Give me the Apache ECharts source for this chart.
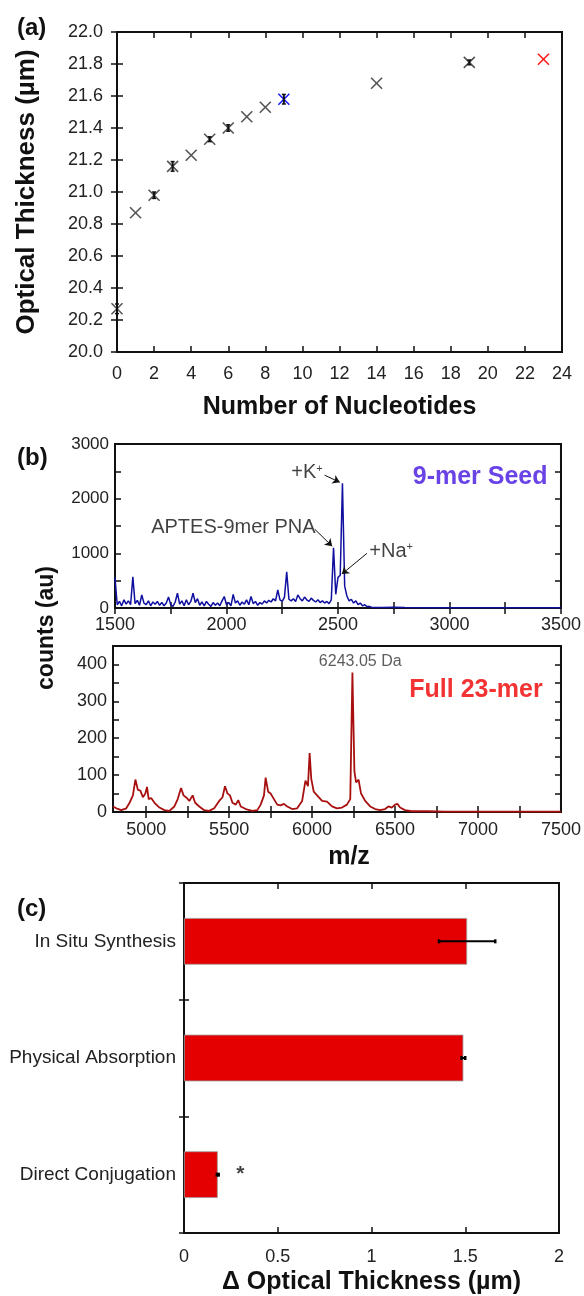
<!DOCTYPE html>
<html>
<head>
<meta charset="utf-8">
<title>Optical thickness / MALDI / delta thickness</title>
<script src="https://cdn.jsdelivr.net/npm/echarts@6/dist/echarts.min.js"></script>
<style>
  html, body { margin: 0; padding: 0; background: #fff; }
  #chart { width: 584px; height: 1296px; }
</style>
</head>
<body>
<div id="chart"></div>
<script>
// (a) optical thickness vs number of nucleotides
const nucleotides = [0, 1, 2, 3, 4, 5, 6, 7, 8, 9, 14, 19, 23];
const thickness = [20.27, 20.87, 20.98, 21.16, 21.23, 21.33, 21.40, 21.47, 21.53, 21.58, 21.68, 21.81, 21.83];
const thicknessErr = [0.03, 0, 0.02, 0.03, 0, 0.015, 0.02, 0, 0, 0.03, 0, 0.015, 0];
const seedLength = 9;
const fullLength = 23;

// (b) top: 9-mer seed spectrum
const seedMz = [1500, 1505, 1510, 1520, 1530, 1540, 1550, 1560, 1570, 1580, 1590, 1600, 1610, 1620, 1630, 1640,
  1650, 1660, 1670, 1680, 1690, 1700, 1710, 1720, 1730, 1740, 1750, 1760, 1770, 1780, 1790, 1800, 1810, 1820,
  1830, 1840, 1850, 1860, 1870, 1880, 1890, 1900, 1910, 1920, 1930, 1940, 1950, 1960, 1970, 1980, 1990, 2000,
  2010, 2020, 2030, 2040, 2050, 2060, 2070, 2080, 2090, 2100, 2110, 2120, 2130, 2140, 2150, 2160, 2170, 2180,
  2190, 2200, 2210, 2220, 2230, 2240, 2250, 2260, 2270, 2280, 2290, 2300, 2310, 2320, 2330, 2340, 2350, 2360,
  2370, 2380, 2390, 2400, 2410, 2420, 2430, 2440, 2450, 2460, 2470, 2480, 2490, 2500, 2510, 2520, 2530, 2540,
  2550, 2560, 2570, 2580, 2590, 2600, 2610, 2620, 2630, 2640, 2650, 2660, 2700, 2750, 2800, 2900, 3000, 3100,
  3200, 3300, 3400, 3500];
const seedCounts = [560, 300, 60, 120, 40, 150, 70, 130, 60, 570, 80, 140, 50, 240, 90, 60,
  130, 40, 110, 70, 120, 50, 100, 40, 90, 200, 60, 30, 110, 270, 70, 130, 40, 150,
  60, 120, 270, 100, 170, 50, 110, 40, 120, 70, 30, 100, 50, 90, 40, 130, 210, 60,
  100, 40, 250, 90, 130, 50, 110, 70, 150, 60, 210, 80, 120, 50, 100, 70, 130, 90,
  140, 110, 170, 130, 330, 150, 120, 200, 660, 160, 130, 170, 120, 240, 170, 130, 200, 150,
  120, 180, 140, 110, 150, 100, 130, 90, 120, 80, 150, 1100, 250, 560, 600, 2280, 400, 220,
  130, 160, 90, 130, 60, 90, 40, 60, 25, 30, 15, 10, 10, 12, 8, 6, 5, 6,
  5, 6, 5, 5];

// (b) bottom: full 23-mer spectrum
const fullMz = [4800, 4820, 4850, 4880, 4900, 4920, 4935, 4950, 4965, 4980, 4995, 5005, 5015, 5030, 5050, 5080,
  5110, 5140, 5170, 5190, 5210, 5225, 5245, 5260, 5280, 5295, 5320, 5350, 5380, 5410, 5440, 5460, 5475, 5490,
  5505, 5520, 5540, 5555, 5570, 5600, 5640, 5670, 5690, 5710, 5720, 5735, 5750, 5770, 5790, 5810, 5830, 5850,
  5880, 5910, 5940, 5960, 5975, 5985, 5995, 6010, 6030, 6060, 6090, 6120, 6150, 6180, 6210, 6230, 6243, 6255,
  6265, 6280, 6295, 6320, 6350, 6380, 6410, 6440, 6460, 6480, 6500, 6515, 6530, 6560, 6600, 6700, 6800, 7000,
  7200, 7500];
const fullCounts = [15, 10, 5, 10, 25, 45, 88, 60, 58, 40, 50, 68, 35, 38, 25, 12,
  5, 3, 15, 35, 65, 45, 38, 30, 45, 25, 15, 5, 3, 10, 30, 40, 70, 50,
  45, 25, 20, 32, 15, 8, 3, 5, 20, 45, 93, 55, 50, 35, 20, 18, 22, 15,
  8, 10, 30, 85, 70, 160, 90, 55, 45, 30, 28, 15, 10, 12, 20, 35, 378, 110,
  80, 88, 50, 30, 15, 8, 5, 8, 15, 12, 20, 22, 12, 5, 2, 2, 1, 1,
  1, 1];

// (c) delta optical thickness by method
const methods = ['In Situ Synthesis', 'Physical Absorption', 'Direct Conjugation'];
const deltaThickness = [1.51, 1.49, 0.18];
const deltaErr = [0.15, 0.01, 0.005];

const FONT = 'Liberation Sans, Arial, sans-serif';
const INK = '#111';
const TICK = { show: true, inside: true, length: 6, lineStyle: { color: INK, width: 1.5 } };

function frameAxis(extra) {
  return Object.assign({
    axisLine: { show: true, lineStyle: { color: INK, width: 2 } },
    splitLine: { show: false },
    axisTick: TICK,
    axisLabel: { color: '#222', fontSize: 18, fontFamily: FONT }
  }, extra);
}

function nameStyle(size) {
  return { fontSize: size, fontWeight: 'bold', color: INK, fontFamily: FONT };
}

function crossItem(params, api) {
  const x = api.value(0), y = api.value(1), e = api.value(2);
  const p = api.coord([x, y]);
  const s = 5.5;
  const color = api.visual('color');
  const children = [
    { type: 'line', shape: { x1: p[0] - s, y1: p[1] - s, x2: p[0] + s, y2: p[1] + s }, style: { stroke: color, lineWidth: 1.6 } },
    { type: 'line', shape: { x1: p[0] - s, y1: p[1] + s, x2: p[0] + s, y2: p[1] - s }, style: { stroke: color, lineWidth: 1.6 } }
  ];
  if (e > 0) {
    const hi = api.coord([x, y + e]);
    const lo = api.coord([x, y - e]);
    children.push({ type: 'line', shape: { x1: p[0], y1: hi[1], x2: p[0], y2: lo[1] }, style: { stroke: '#111', lineWidth: 2 } });
    children.push({ type: 'line', shape: { x1: p[0] - 2, y1: hi[1], x2: p[0] + 2, y2: hi[1] }, style: { stroke: '#111', lineWidth: 1.5 } });
    children.push({ type: 'line', shape: { x1: p[0] - 2, y1: lo[1], x2: p[0] + 2, y2: lo[1] }, style: { stroke: '#111', lineWidth: 1.5 } });
  }
  return { type: 'group', children: children };
}

function hBarError(params, api) {
  const v = api.value(0), cat = api.value(1), e = api.value(2);
  const lo = api.coord([v - e, cat]);
  const hi = api.coord([v + e, cat]);
  return {
    type: 'group',
    children: [
      { type: 'line', shape: { x1: lo[0], y1: lo[1], x2: hi[0], y2: hi[1] }, style: { stroke: '#000', lineWidth: 2 } },
      { type: 'line', shape: { x1: lo[0], y1: lo[1] - 2, x2: lo[0], y2: lo[1] + 2 }, style: { stroke: '#000', lineWidth: 2.5 } },
      { type: 'line', shape: { x1: hi[0], y1: hi[1] - 2, x2: hi[0], y2: hi[1] + 2 }, style: { stroke: '#000', lineWidth: 2.5 } }
    ]
  };
}

const points = nucleotides.map((n, i) => [n, thickness[i], thicknessErr[i]]);
const greyPoints = points.filter(p => p[0] !== seedLength && p[0] !== fullLength);
const seedPoint = points.filter(p => p[0] === seedLength);
const fullPoint = points.filter(p => p[0] === fullLength);

const gridBox = { show: true, borderColor: INK, borderWidth: 2, backgroundColor: 'transparent' };
const supRich = { s: { fontSize: 11, verticalAlign: 'top', padding: [0, 0, 9, 0] } };

const option = {
  animation: false,
  backgroundColor: '#fff',
  textStyle: { fontFamily: FONT },
  title: [
    { text: '(a)', left: 12, top: 11, textStyle: nameStyle(24) },
    { text: '(b)', left: 12, top: 441, textStyle: nameStyle(24) },
    { text: '(c)', left: 12, top: 892, textStyle: nameStyle(24) }
  ],
  graphic: [{
    type: 'text', left: 35, top: 566, rotation: Math.PI / 2,
    style: { text: 'counts (au)', fontSize: 23, fontWeight: 'bold', fill: INK, fontFamily: FONT }
  }],
  grid: [
    Object.assign({ left: 117, top: 32, width: 445, height: 320 }, gridBox),
    Object.assign({ left: 115, top: 444, width: 446, height: 164 }, gridBox),
    Object.assign({ left: 113, top: 646, width: 448, height: 166 }, gridBox),
    Object.assign({ left: 184, top: 883, width: 375, height: 350 }, gridBox)
  ],
  xAxis: [
    frameAxis({ gridIndex: 0, type: 'value', min: 0, max: 24, interval: 2,
      axisLabel: { color: '#222', fontSize: 18, fontFamily: FONT, margin: 13 },
      name: 'Number of Nucleotides', nameLocation: 'middle', nameGap: 43, nameTextStyle: nameStyle(25) }),
    frameAxis({ gridIndex: 0, type: 'value', position: 'top', min: 0, max: 24, interval: 2, axisLabel: { show: false } }),
    frameAxis({ gridIndex: 1, type: 'value', min: 1500, max: 3500, interval: 250,
      axisLabel: { color: '#222', fontSize: 18, fontFamily: FONT, margin: 8, formatter: v => (v % 500 === 0 ? String(v) : '') } }),
    frameAxis({ gridIndex: 1, type: 'value', position: 'top', min: 1500, max: 3500, interval: 250, axisLabel: { show: false } }),
    frameAxis({ gridIndex: 2, type: 'value', min: 4800, max: 7500,
      axisLabel: { color: '#222', fontSize: 18, fontFamily: FONT, margin: 9, formatter: v => String(v),
        customValues: [5000, 5500, 6000, 6500, 7000, 7500] },
      axisTick: Object.assign({}, TICK, { customValues: [5000, 5250, 5500, 5750, 6000, 6250, 6500, 6750, 7000, 7250] }),
      name: 'm/z', nameLocation: 'middle', nameGap: 33,
      nameTextStyle: Object.assign(nameStyle(25), { padding: [0, 0, 0, 24] }) }),
    frameAxis({ gridIndex: 2, type: 'value', position: 'top', min: 4800, max: 7500,
      axisLabel: { show: false },
      axisTick: Object.assign({}, TICK, { customValues: [5000, 5250, 5500, 5750, 6000, 6250, 6500, 6750, 7000, 7250] }) }),
    frameAxis({ gridIndex: 3, type: 'value', min: 0, max: 2, interval: 0.5,
      axisLabel: { color: '#222', fontSize: 18, fontFamily: FONT, margin: 15 },
      name: '\u0394 Optical Thickness (\u00b5m)', nameLocation: 'middle', nameGap: 37, nameTextStyle: nameStyle(25) }),
    frameAxis({ gridIndex: 3, type: 'value', position: 'top', min: 0, max: 2, interval: 0.5, axisLabel: { show: false } })
  ],
  yAxis: [
    frameAxis({ gridIndex: 0, type: 'value', min: 20, max: 22, interval: 0.2,
      axisLabel: { color: '#222', fontSize: 18, fontFamily: FONT, margin: 14, formatter: v => v.toFixed(1) },
      name: 'Optical Thickness (\u00b5m)', nameLocation: 'middle', nameGap: 77, nameTextStyle: nameStyle(26) }),
    frameAxis({ gridIndex: 0, type: 'value', position: 'right', min: 20, max: 22, interval: 0.2, axisLabel: { show: false } }),
    frameAxis({ gridIndex: 1, type: 'value', min: 0, max: 3000, interval: 500,
      axisLabel: { color: '#222', fontSize: 17, fontFamily: FONT, margin: 6, formatter: v => (v % 1000 === 0 ? String(v) : '') } }),
    frameAxis({ gridIndex: 1, type: 'value', position: 'right', min: 0, max: 3000, interval: 500, axisLabel: { show: false } }),
    frameAxis({ gridIndex: 2, type: 'value', min: 0, max: 450, interval: 50,
      axisLabel: { color: '#222', fontSize: 18, fontFamily: FONT, margin: 6, formatter: v => (v % 100 === 0 ? String(v) : '') } }),
    frameAxis({ gridIndex: 2, type: 'value', position: 'right', min: 0, max: 450, interval: 50, axisLabel: { show: false } }),
    frameAxis({ gridIndex: 3, type: 'category', data: methods, inverse: true,
      axisTick: Object.assign({}, TICK, { length: 5, alignWithLabel: false }),
      axisLabel: { color: '#222', fontSize: 19, fontFamily: FONT, margin: 8 } }),
    frameAxis({ gridIndex: 3, type: 'category', data: methods, inverse: true, position: 'right',
      axisTick: Object.assign({}, TICK, { length: 5, alignWithLabel: false }), axisLabel: { show: false } })
  ],
  series: [
    { type: 'custom', xAxisIndex: 0, yAxisIndex: 0, renderItem: crossItem, itemStyle: { color: '#555' }, data: greyPoints },
    { type: 'custom', xAxisIndex: 0, yAxisIndex: 0, renderItem: crossItem, itemStyle: { color: '#1a1aff' }, data: seedPoint },
    { type: 'custom', xAxisIndex: 0, yAxisIndex: 0, renderItem: crossItem, itemStyle: { color: '#ff1a1a' }, data: fullPoint },
    {
      type: 'line', xAxisIndex: 2, yAxisIndex: 2, showSymbol: false,
      lineStyle: { color: '#1010a0', width: 1.5 }, itemStyle: { color: '#1010a0' },
      data: seedMz.map((m, i) => [m, seedCounts[i]]),
      markLine: {
        silent: true, symbol: ['none', 'arrow'], symbolSize: 7,
        lineStyle: { color: INK, width: 1, type: 'solid' }, label: { show: false },
        data: [
          [{ coord: [2440, 2430] }, { coord: [2508, 2300] }],
          [{ coord: [2396, 1440] }, { coord: [2474, 1130] }],
          [{ coord: [2630, 1000] }, { coord: [2517, 620] }]
        ]
      }
    },
    {
      type: 'scatter', xAxisIndex: 2, yAxisIndex: 2, symbolSize: 0.1, itemStyle: { color: 'transparent' }, silent: true,
      label: { show: true, color: INK, fontSize: 20, fontFamily: FONT, distance: 0 },
      data: [
        { value: [2432, 2470], label: { position: 'left', formatter: '+K{s|+}', rich: supRich } },
        { value: [2400, 1470], label: { position: 'left', formatter: 'APTES-9mer PNA' } },
        { value: [2640, 1030], label: { position: 'right', formatter: '+Na{s|+}', rich: supRich } },
        { value: [3440, 2400], label: { position: 'left', formatter: '9-mer Seed', color: '#4414e0', fontSize: 25, fontWeight: 'bold' } }
      ]
    },
    {
      type: 'line', xAxisIndex: 4, yAxisIndex: 4, showSymbol: false,
      lineStyle: { color: '#a81010', width: 1.8 }, itemStyle: { color: '#a81010' },
      data: fullMz.map((m, i) => [m, fullCounts[i]])
    },
    {
      type: 'scatter', xAxisIndex: 4, yAxisIndex: 4, symbolSize: 0.1, itemStyle: { color: 'transparent' }, silent: true,
      label: { show: true, color: '#333', fontSize: 16, fontFamily: FONT, distance: 0 },
      data: [
        { value: [6290, 408], label: { position: 'inside', formatter: '6243.05 Da' } },
        { value: [7390, 330], label: { position: 'left', formatter: 'Full 23-mer', color: '#f00000', fontSize: 25, fontWeight: 'bold' } }
      ]
    },
    {
      type: 'bar', xAxisIndex: 6, yAxisIndex: 6, barWidth: '40%',
      itemStyle: { color: '#e40000', borderColor: '#9a9a9a', borderWidth: 0.8 },
      data: deltaThickness
    },
    {
      type: 'custom', xAxisIndex: 6, yAxisIndex: 6, renderItem: hBarError, z: 10,
      data: deltaThickness.map((v, i) => [v, i, deltaErr[i]])
    },
    {
      type: 'scatter', xAxisIndex: 6, yAxisIndex: 6, symbolSize: 0.1, itemStyle: { color: 'transparent' }, silent: true,
      label: { show: true, position: 'inside', formatter: '*', color: INK, fontSize: 21, fontWeight: 'bold', fontFamily: FONT },
      data: [[0.30, 2]]
    }
  ]
};

const chart = echarts.init(document.getElementById('chart'), null, { renderer: 'canvas' });
chart.setOption(option);
</script>
</body>
</html>
